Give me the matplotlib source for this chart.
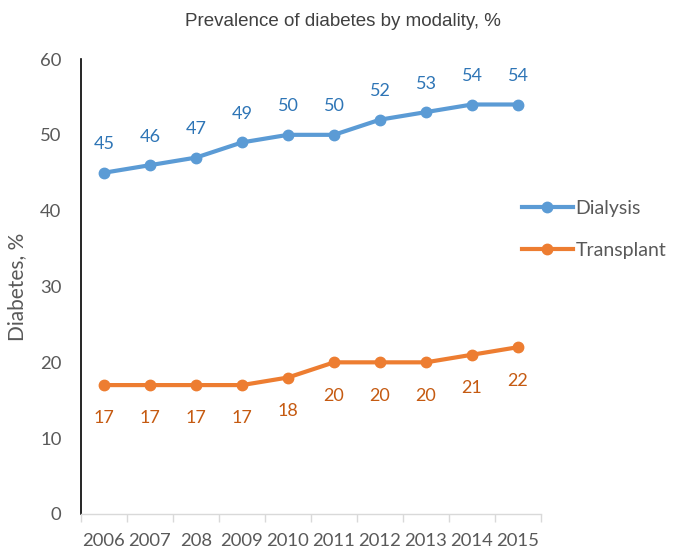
import numpy as np
import matplotlib
matplotlib.use('Agg')
import matplotlib.pyplot as plt
from matplotlib.lines import Line2D

# data
years = ['2006', '2007', '208', '2009', '2010', '2011', '2012', '2013', '2014', '2015']
dialysis = [45, 46, 47, 49, 50, 50, 52, 53, 54, 54]
transplant = [17, 17, 17, 17, 18, 20, 20, 20, 21, 22]

blue = '#5B9BD5'
orange = '#ED7D31'
blue_txt = '#2E75B6'
orange_txt = '#C55A11'
grey_txt = '#595959'

plt.rcParams['font.family'] = ['Lato', 'DejaVu Sans']

fig = plt.figure(figsize=(6.73, 5.51), dpi=100)
ax = fig.add_axes([81/673, 37/551, 460/673, 455/551])

x = np.arange(len(years))
ax.plot(x, dialysis, color=blue, lw=3, marker='o', ms=7.5, solid_capstyle='round', zorder=3)
ax.plot(x, transplant, color=orange, lw=3, marker='o', ms=7.5, solid_capstyle='round', zorder=3)

# data labels, above for dialysis, below for transplant
for xi, v in zip(x, dialysis):
    ax.annotate(str(v), (xi, v), xytext=(0, 20.5), textcoords='offset points',
                ha='center', va='center', color=blue_txt, fontsize=13)
for xi, v in zip(x, transplant):
    ax.annotate(str(v), (xi, v), xytext=(0, -24), textcoords='offset points',
                ha='center', va='center', color=orange_txt, fontsize=13)

ax.set_xlim(-0.5, len(years) - 0.5)
ax.set_ylim(0, 60)
ax.set_yticks(range(0, 61, 10))
ax.tick_params(axis='y', length=0, labelsize=13.3, labelcolor=grey_txt, pad=14)

# category axis: ticks between categories, labels centred
ax.set_xticks(np.arange(-0.5, len(years), 1))
ax.set_xticklabels([])
ax.set_xticks(x, minor=True)
ax.set_xticklabels(years, minor=True)
ax.tick_params(axis='x', which='major', length=6, color='#D9D9D9', width=1)
ax.tick_params(axis='x', which='minor', length=0, labelsize=13.3, labelcolor=grey_txt, pad=14)

ax.spines['top'].set_visible(False)
ax.spines['right'].set_visible(False)
ax.spines['left'].set_color('black')
ax.spines['left'].set_linewidth(1.2)
ax.spines['bottom'].set_color('#D9D9D9')
ax.spines['bottom'].set_linewidth(1)

ax.set_ylabel('Diabetes, %', fontsize=15, color=grey_txt)
ax.yaxis.set_label_coords(-0.117, 0.5)

fig.text(343/673, 1 - 22/551, 'Prevalence of diabetes by modality, %', ha='center', va='center',
         fontsize=13.5, color='#404040', family=['Liberation Sans', 'DejaVu Sans'])

handles = [Line2D([], [], color=blue, lw=3, marker='o', ms=7.5),
           Line2D([], [], color=orange, lw=3, marker='o', ms=7.5)]
fig.legend(handles, ['Dialysis', 'Transplant'], loc='upper left',
           bbox_to_anchor=(522/673, 1 - 200/551), frameon=False, borderpad=0,
           borderaxespad=0, fontsize=14, labelcolor=grey_txt, handlelength=2.6,
           handletextpad=0.15, labelspacing=1.3)

fig.savefig('out.png', dpi=100)
